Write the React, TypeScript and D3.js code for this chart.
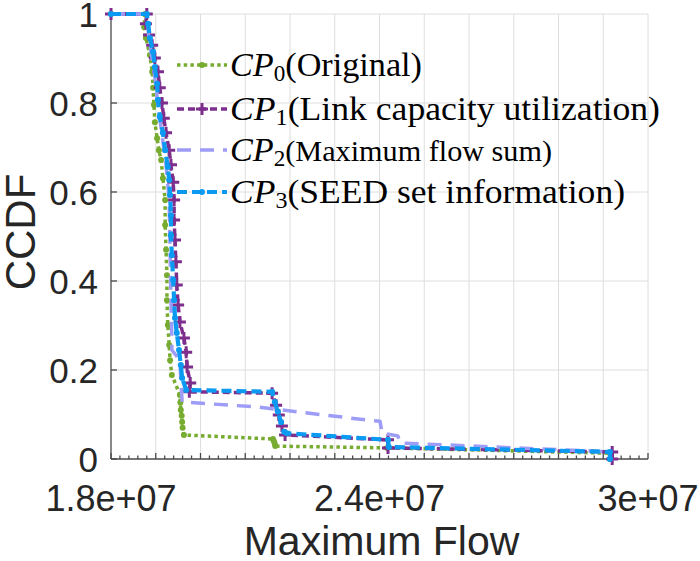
import React, { useEffect, useRef } from "react";
import * as d3 from "d3";

// values; flows are in millions
const cp0Flow = [18.0, 18.76, 18.74, 18.78, 18.87, 18.92, 18.94, 18.96, 18.98, 19.03, 19.07, 19.12, 19.16, 19.21, 19.21, 19.23, 19.25, 19.25, 19.27, 19.3, 19.32, 19.36, 19.54, 19.55, 19.56, 19.58, 19.59, 19.6, 19.63, 21.62, 21.64, 21.66, 21.67, 24.17, 29.15, 29.15];
const cp0Ccdf = [1, 1, 0.971, 0.946, 0.908, 0.87, 0.834, 0.796, 0.757, 0.721, 0.694, 0.672, 0.631, 0.582, 0.526, 0.47, 0.413, 0.357, 0.301, 0.256, 0.222, 0.189, 0.144, 0.127, 0.11, 0.097, 0.083, 0.07, 0.054, 0.045, 0.04, 0.034, 0.029, 0.025, 0.013, 0];

const cp1Flow = [18.0, 18.8, 18.78, 18.85, 18.92, 18.98, 19.05, 19.09, 19.14, 19.18, 19.23, 19.3, 19.34, 19.39, 19.41, 19.41, 19.43, 19.45, 19.47, 19.5, 19.54, 19.63, 19.68, 19.7, 19.77, 19.75, 21.6, 21.69, 21.75, 21.82, 21.89, 24.19, 24.19, 29.2, 29.2];
const cp1Ccdf = [1, 1, 0.978, 0.953, 0.93, 0.901, 0.87, 0.834, 0.8, 0.766, 0.733, 0.694, 0.661, 0.622, 0.582, 0.537, 0.492, 0.443, 0.391, 0.346, 0.308, 0.272, 0.24, 0.207, 0.171, 0.151, 0.148, 0.121, 0.099, 0.074, 0.054, 0.043, 0.025, 0.016, 0];

const cp2Flow = [18.0, 18.8, 18.85, 18.96, 19.05, 19.14, 19.23, 19.3, 19.32, 19.34, 19.36, 19.36, 19.54, 19.56, 19.59, 21.26, 23.68, 24.01, 24.06, 24.41, 24.46, 29.15, 29.15];
const cp2Ccdf = [1, 1, 0.942, 0.874, 0.796, 0.728, 0.661, 0.582, 0.47, 0.357, 0.267, 0.245, 0.222, 0.178, 0.128, 0.117, 0.088, 0.085, 0.058, 0.052, 0.036, 0.016, 0];

const cp3Flow = [18.0, 18.8, 18.83, 18.87, 18.94, 18.98, 19.03, 19.05, 19.09, 19.16, 19.21, 19.27, 19.3, 19.32, 19.34, 19.34, 19.36, 19.39, 19.41, 19.43, 19.47, 19.52, 19.56, 19.59, 19.68, 21.6, 21.66, 21.73, 21.8, 21.87, 21.93, 24.19, 24.21, 29.15, 29.15];
const cp3Ccdf = [1, 1, 0.978, 0.946, 0.915, 0.881, 0.843, 0.807, 0.769, 0.733, 0.694, 0.656, 0.627, 0.593, 0.548, 0.503, 0.458, 0.402, 0.357, 0.317, 0.283, 0.245, 0.211, 0.182, 0.155, 0.151, 0.128, 0.106, 0.083, 0.061, 0.058, 0.043, 0.027, 0.016, 0];

const legendLabels = ["(Original)", "(Link capacity utilization)", "(Maximum flow sum)", "(SEED set information)"];
const xTickValues = [18e6, 24e6, 30e6];
const xTickLabels = ["1.8e+07", "2.4e+07", "3e+07"];
const yTickValues = [0, 0.2, 0.4, 0.6, 0.8, 1];
const yTickLabels = ["0", "0.2", "0.4", "0.6", "0.8", "1"];

type Marker = "circle" | "plus" | "none";
interface SeriesStyle {
  flow: number[];
  ccdf: number[];
  color: string;
  dash: string;
  width: number;
  marker: Marker;
  markerSize: number;
}

const series: SeriesStyle[] = [
  { flow: cp0Flow, ccdf: cp0Ccdf, color: "#77ac30", dash: "3.5,3.2", width: 3.5, marker: "circle", markerSize: 3 },
  { flow: cp1Flow, ccdf: cp1Ccdf, color: "#7e2f8e", dash: "7,4", width: 3.5, marker: "plus", markerSize: 6 },
  { flow: cp2Flow, ccdf: cp2Ccdf, color: "#9d9cf7", dash: "14,9", width: 3.5, marker: "none", markerSize: 0 },
  { flow: cp3Flow, ccdf: cp3Ccdf, color: "#0a9af2", dash: "10,5", width: 4.2, marker: "circle", markerSize: 3 },
];

const W = 700;
const H = 561;
const margin = { left: 111, right: 52, top: 14, bottom: 102 };

export default function App() {
  const svgRef = useRef<SVGSVGElement>(null);

  useEffect(() => {
    if (!svgRef.current) return;
    const svg = d3.select(svgRef.current);
    svg.selectAll("*").remove();

    const x = d3.scaleLinear().domain([18e6, 30e6]).range([margin.left, W - margin.right]);
    const y = d3.scaleLinear().domain([0, 1]).range([H - margin.bottom, margin.top]);
    const x0 = x.range()[0], x1 = x.range()[1];
    const y0 = y.range()[0], y1 = y.range()[1];

    // grid
    const grid = svg.append("g").attr("stroke", "#dedede").attr("stroke-width", 1);
    d3.range(19e6, 30e6 + 1, 1e6).forEach((v) => {
      grid.append("line").attr("x1", x(v)).attr("x2", x(v)).attr("y1", y0).attr("y2", y1);
    });
    yTickValues.slice(1).forEach((v) => {
      grid.append("line").attr("x1", x0).attr("x2", x1).attr("y1", y(v)).attr("y2", y(v));
    });

    // axes
    const axis = svg.append("g").attr("stroke", "#4a4a4a").attr("stroke-width", 1.3);
    axis.append("line").attr("x1", x0).attr("x2", x0).attr("y1", y0).attr("y2", y1);
    axis.append("line").attr("x1", x0).attr("x2", x1).attr("y1", y0).attr("y2", y0);
    d3.range(18e6, 30e6 + 1, 2e5).forEach((v, i) => {
      const len = i % 5 === 0 ? 6 : 3.5;
      axis.append("line").attr("x1", x(v)).attr("x2", x(v)).attr("y1", y0).attr("y2", y0 - len);
    });
    yTickValues.forEach((v) => {
      axis.append("line").attr("x1", x0).attr("x2", x0 + 6).attr("y1", y(v)).attr("y2", y(v));
    });

    const labelFont = "'Liberation Sans', Arial, sans-serif";
    yTickValues.forEach((v, i) => {
      svg.append("text")
        .attr("x", 98)
        .attr("y", y(v))
        .attr("dy", "0.36em")
        .attr("text-anchor", "end")
        .attr("font-family", labelFont)
        .attr("font-size", 35)
        .attr("fill", "#262626")
        .text(yTickLabels[i]);
    });
    xTickValues.forEach((v, i) => {
      svg.append("text")
        .attr("x", x(v))
        .attr("y", 511)
        .attr("text-anchor", "middle")
        .attr("font-family", labelFont)
        .attr("font-size", 36)
        .attr("fill", "#262626")
        .text(xTickLabels[i]);
    });

    svg.append("text")
      .attr("transform", `translate(35,232) rotate(-90)`)
      .attr("text-anchor", "middle")
      .attr("font-family", labelFont)
      .attr("font-size", 42)
      .attr("fill", "#262626")
      .text("CCDF");
    svg.append("text")
      .attr("x", (x0 + x1) / 2 + 2)
      .attr("y", 555)
      .attr("text-anchor", "middle")
      .attr("font-family", labelFont)
      .attr("font-size", 41)
      .attr("fill", "#262626")
      .text("Maximum Flow");

    const drawMarker = (g: any, s: SeriesStyle, cx: number, cy: number) => {
      if (s.marker === "circle") {
        g.append("circle").attr("cx", cx).attr("cy", cy).attr("r", s.markerSize).attr("fill", s.color);
      } else if (s.marker === "plus") {
        const m = s.markerSize;
        g.append("path")
          .attr("d", `M${cx - m},${cy}H${cx + m}M${cx},${cy - m}V${cy + m}`)
          .attr("stroke", s.color)
          .attr("stroke-width", 3)
          .attr("fill", "none");
      }
    };

    // curves
    const line = d3.line<[number, number]>()
      .x((d) => x(d[0] * 1e6))
      .y((d) => y(d[1]));

    series.forEach((s) => {
      const pts: [number, number][] = s.flow.map((f, i) => [f, s.ccdf[i]]);
      const g = svg.append("g");
      g.append("path")
        .attr("d", line(pts) || "")
        .attr("fill", "none")
        .attr("stroke", s.color)
        .attr("stroke-width", s.width)
        .attr("stroke-dasharray", s.dash)
        .attr("stroke-linejoin", "round");
      pts.forEach((p) => drawMarker(g, s, x(p[0] * 1e6), y(p[1])));
    });

    // legend
    const legendRows = [65, 109, 150, 192];
    const legendWidths = [192, 430, 322, 395];
    const serif = "'Liberation Serif', 'Times New Roman', serif";
    series.forEach((s, i) => {
      const ry = legendRows[i];
      const g = svg.append("g");
      g.append("line")
        .attr("x1", 177).attr("x2", 227)
        .attr("y1", ry).attr("y2", ry)
        .attr("stroke", s.color)
        .attr("stroke-width", s.width)
        .attr("stroke-dasharray", s.dash);
      drawMarker(g, s, 202, ry);

      const t = g.append("text")
        .attr("x", 230)
        .attr("y", ry + 11)
        .attr("font-family", serif)
        .attr("font-size", 34)
        .attr("fill", "#000")
        .attr("textLength", legendWidths[i])
        .attr("lengthAdjust", "spacingAndGlyphs");
      t.append("tspan").attr("font-style", "italic").text("CP");
      t.append("tspan").attr("font-size", 23).attr("dy", 5).text(String(i));
      t.append("tspan")
        .attr("dy", -5)
        .attr("font-size", i === 2 ? 30 : 34)
        .text(legendLabels[i]);
    });
  }, []);

  return (
    <svg
      ref={svgRef}
      width={W}
      height={H}
      style={{ position: "absolute", left: 0, top: 0, background: "#fff" }}
    />
  );
}
